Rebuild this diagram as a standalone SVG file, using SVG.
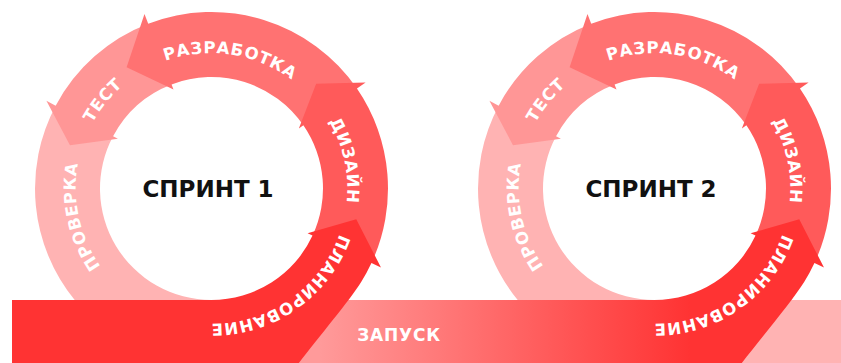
<svg xmlns="http://www.w3.org/2000/svg" xmlns:xlink="http://www.w3.org/1999/xlink" width="841" height="363" viewBox="0 0 841 363">
  <defs>
    <!-- launch track fades from pink into the next sprint's planning red -->
    <linearGradient id="launchGrad" gradientUnits="userSpaceOnUse" x1="320" y1="0" x2="690" y2="0">
      <stop offset="0" stop-color="#ff9a9a"/>
      <stop offset="1" stop-color="#ff3333"/>
    </linearGradient>
    <!-- same gradient expressed in the local space of the second sprint (shifted by 443) -->
    <linearGradient id="launchGrad2" gradientUnits="userSpaceOnUse" x1="-123" y1="0" x2="247" y2="0">
      <stop offset="0" stop-color="#ff9a9a"/>
      <stop offset="1" stop-color="#ff3333"/>
    </linearGradient>
    <!-- clockwise baseline circle for the phase labels, starting at 115 degrees -->
    <path id="labelRing" d="M154.45 310.85 A135 135 0 1 1 268.55 66.15 A135 135 0 1 1 154.45 310.85"/>
  </defs>

  <style>
    .review { fill: #ffb3b3; }
    .test { fill: #ff9696; }
    .dev { fill: #ff7272; }
    .design { fill: #ff5a5a; }
    .plan { fill: #ff3333; }
    .lbl { font-family: "DejaVu Sans", "Liberation Sans", sans-serif; font-weight: bold; font-size: 16.5px; fill: #ffffff; letter-spacing: 0.8px; text-anchor: middle; }
    .title { font-family: "DejaVu Sans", "Liberation Sans", sans-serif; font-weight: bold; font-size: 23px; fill: #111111; text-anchor: middle; }
  </style>

  <rect width="841" height="363" fill="#ffffff"/>

  <!-- launch track running under both sprints -->
  <g id="connectors">
    <rect x="12" y="300" width="700" height="63" fill="url(#launchGrad)"/>
    <rect x="700" y="300" width="141" height="63" fill="#ffb3b3"/>
    <text class="lbl" x="399" y="341" style="font-size:17px">ЗАПУСК</text>
  </g>

  <!-- sprint 1 -->
  <g id="sprint-1">
    <g id="s1-review">
      <path class="review" d="M55.67 105.63 A176.5 176.5 0 0 0 74.69 300 L211.5 300 A111.5 111.5 0 0 1 113.06 136.15 Z"/>
      <text class="lbl"><textPath href="#labelRing" startOffset="124.9">ПРОВЕРКА</textPath></text>
    </g>
    <g id="s1-test">
      <path class="test" d="M148.24 23.72 A176.5 176.5 0 0 0 55.67 105.63 L46.40 100.70 L69.97 145.22 L117.91 138.73 L113.06 136.15 A111.5 111.5 0 0 1 171.54 84.40 Z"/>
      <text class="lbl"><textPath href="#labelRing" startOffset="246.2">ТЕСТ</textPath></text>
    </g>
    <g id="s1-dev">
      <path class="dev" d="M356.95 88.53 A176.5 176.5 0 0 0 148.24 23.72 L144.48 13.92 L126.61 67.26 L173.51 89.54 L171.54 84.40 A111.5 111.5 0 0 1 303.39 125.35 Z"/>
      <text class="lbl"><textPath href="#labelRing" startOffset="386.4">РАЗРАБОТКА</textPath></text>
    </g>
    <g id="s1-design">
      <path class="design" d="M371.46 263.09 A176.5 176.5 0 0 0 356.95 88.53 L365.61 82.58 L316.15 83.85 L298.85 128.46 L303.39 125.35 A111.5 111.5 0 0 1 312.55 235.62 Z"/>
      <text class="lbl"><textPath href="#labelRing" startOffset="551.3">ДИЗАЙН</textPath></text>
    </g>
    <g id="s1-plan">
      <path class="plan" d="M12 300 L211.5 300 A111.5 111.5 0 0 0 312.55 235.62 L307.57 233.30 L356.26 219.27 L380.98 267.53 L371.46 263.09 A176.5 176.5 0 0 1 361.17 282.03 C347.9 303.2 312 345 292 372 L12 372 Z"/>
      <text class="lbl"><textPath href="#labelRing" startOffset="709.2">ПЛАНИРОВАНИЕ</textPath></text>
    </g>
    <text class="title" x="208" y="197">СПРИНТ 1</text>
  </g>

  <!-- sprint 2: same ring, shifted right -->
  <g id="sprint-2" transform="translate(443 0)">
    <g id="s2-review">
      <path class="review" d="M55.67 105.63 A176.5 176.5 0 0 0 74.69 300 L211.5 300 A111.5 111.5 0 0 1 113.06 136.15 Z"/>
      <text class="lbl"><textPath href="#labelRing" startOffset="124.9">ПРОВЕРКА</textPath></text>
    </g>
    <g id="s2-test">
      <path class="test" d="M148.24 23.72 A176.5 176.5 0 0 0 55.67 105.63 L46.40 100.70 L69.97 145.22 L117.91 138.73 L113.06 136.15 A111.5 111.5 0 0 1 171.54 84.40 Z"/>
      <text class="lbl"><textPath href="#labelRing" startOffset="246.2">ТЕСТ</textPath></text>
    </g>
    <g id="s2-dev">
      <path class="dev" d="M356.95 88.53 A176.5 176.5 0 0 0 148.24 23.72 L144.48 13.92 L126.61 67.26 L173.51 89.54 L171.54 84.40 A111.5 111.5 0 0 1 303.39 125.35 Z"/>
      <text class="lbl"><textPath href="#labelRing" startOffset="386.4">РАЗРАБОТКА</textPath></text>
    </g>
    <g id="s2-design">
      <path class="design" d="M371.46 263.09 A176.5 176.5 0 0 0 356.95 88.53 L365.61 82.58 L316.15 83.85 L298.85 128.46 L303.39 125.35 A111.5 111.5 0 0 1 312.55 235.62 Z"/>
      <text class="lbl"><textPath href="#labelRing" startOffset="551.3">ДИЗАЙН</textPath></text>
    </g>
    <g id="s2-plan">
      <path fill="url(#launchGrad2)" d="M100 300 L211.5 300 A111.5 111.5 0 0 0 312.55 235.62 L307.57 233.30 L356.26 219.27 L380.98 267.53 L371.46 263.09 A176.5 176.5 0 0 1 361.17 282.03 C347.9 303.2 312 345 292 372 L100 372 Z"/>
      <text class="lbl"><textPath href="#labelRing" startOffset="709.2">ПЛАНИРОВАНИЕ</textPath></text>
    </g>
    <text class="title" x="208" y="197">СПРИНТ 2</text>
  </g>
</svg>
